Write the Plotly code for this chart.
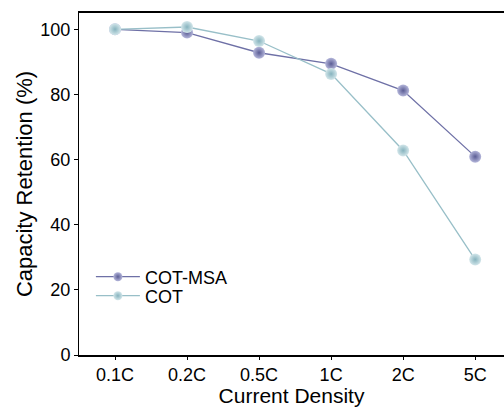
import plotly.graph_objects as go

categories = ["0.1C", "0.2C", "0.5C", "1C", "2C", "5C"]
cot_msa = [100.0, 99.0, 92.8, 89.4, 81.2, 60.9]
cot = [100.0, 100.7, 96.4, 86.3, 62.8, 29.3]
y_ticks = [0, 20, 40, 60, 80, 100]

FONT = "Liberation Sans, Arial, sans-serif"

styles = {
    "COT-MSA": dict(line="#6e70a6", center="#b4b6da", edge="#5b5d95"),
    "COT": dict(line="#98bfc8", center="#d3e6ea", edge="#86b3be"),
}

fig = go.Figure()
for name, vals, leg in [("COT-MSA", cot_msa, "legend"), ("COT", cot, "legend2")]:
    s = styles[name]
    fig.add_trace(go.Scatter(
        x=categories, y=vals, name=name, mode="lines+markers", showlegend=False,
        line=dict(color=s["line"], width=1.3),
        marker=dict(size=12, color=s["center"],
                    gradient=dict(type="radial", color=s["edge"]),
                    line=dict(width=0)),
    ))
    # legend-only entry with a smaller marker
    fig.add_trace(go.Scatter(
        x=[None], y=[None], name=name, mode="lines+markers", legend=leg,
        line=dict(color=s["line"], width=1.3),
        marker=dict(size=9, color=s["center"],
                    gradient=dict(type="radial", color=s["edge"]),
                    line=dict(width=0)),
    ))

leg_common = dict(x=0.028, xanchor="left", yanchor="middle",
                  bgcolor="rgba(0,0,0,0)", font=dict(size=18),
                  itemwidth=44)

fig.update_layout(
    width=504, height=407,
    margin=dict(l=79, r=0, t=13, b=52),
    paper_bgcolor="white", plot_bgcolor="white",
    font=dict(family=FONT, size=18, color="black"),
    showlegend=True,
    legend=dict(y=0.228, **leg_common),
    legend2=dict(y=0.1725, **leg_common),
    xaxis=dict(
        type="category", range=[-0.5, 5.4],
        showline=True, linecolor="black", linewidth=1.5, mirror=True,
        ticks="outside", ticklen=3, tickcolor="black",
        showgrid=False, zeroline=False,
        title=dict(text="Current Density", font=dict(size=21), standoff=0),
    ),
    yaxis=dict(
        range=[0, 105], tickvals=y_ticks,
        showline=True, linecolor="black", linewidth=1,
        ticks="outside", ticklen=4, tickcolor="black",
        showgrid=False, zeroline=False,
        title=dict(text="Capacity Retention (%)", font=dict(size=22), standoff=1),
    ),
)

fig.write_html("out.html")
